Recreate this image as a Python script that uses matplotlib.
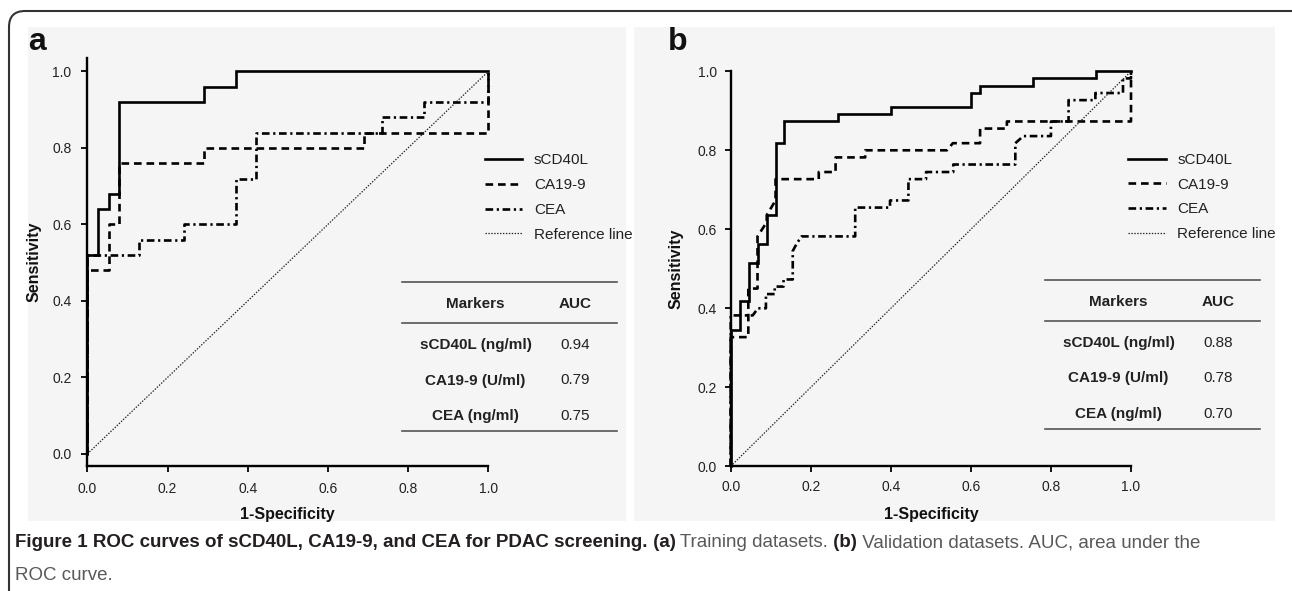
import matplotlib
matplotlib.use('Agg')
import matplotlib.pyplot as plt
from matplotlib.lines import Line2D
from matplotlib.patches import Rectangle, FancyBboxPatch
from matplotlib.transforms import IdentityTransform

W, H, DPI = 1292, 591, 100
plt.rcParams['font.family'] = ['Liberation Sans', 'DejaVu Sans']
plt.rcParams['lines.scale_dashes'] = False

# ---------------- data ----------------
series_names = ['sCD40L', 'CA19-9', 'CEA', 'Reference line']
tick_values = [0.0, 0.2, 0.4, 0.6, 0.8, 1.0]
tick_labels = ['0.0', '0.2', '0.4', '0.6', '0.8', '1.0']

# Panel a (training datasets): ROC vertices (1-specificity, sensitivity)
a_scd40l_x = [0, 0, 0.026, 0.026, 0.053, 0.053, 0.079, 0.079, 0.29, 0.29, 0.37, 0.37, 1.0]
a_scd40l_y = [0, 0.52, 0.52, 0.64, 0.64, 0.68, 0.68, 0.92, 0.92, 0.96, 0.96, 1.0, 1.0]
a_ca199_x = [0, 0, 0.053, 0.053, 0.079, 0.079, 0.29, 0.29, 0.69, 0.69, 1.0, 1.0]
a_ca199_y = [0, 0.48, 0.48, 0.60, 0.60, 0.76, 0.76, 0.80, 0.80, 0.84, 0.84, 1.0]
a_cea_x = [0, 0, 0.13, 0.13, 0.24, 0.24, 0.37, 0.37, 0.42, 0.42, 0.735, 0.735, 0.84, 0.84, 1.0, 1.0]
a_cea_y = [0, 0.52, 0.52, 0.56, 0.56, 0.60, 0.60, 0.72, 0.72, 0.84, 0.84, 0.88, 0.88, 0.92, 0.92, 1.0]

# Panel b (validation datasets)
b_scd40l_x = [0, 0, 0.023, 0.023, 0.046, 0.046, 0.067, 0.067, 0.09, 0.09, 0.1125, 0.1125,
              0.133, 0.133, 0.268, 0.268, 0.40, 0.40, 0.60, 0.60, 0.623, 0.623, 0.756, 0.756,
              0.912, 0.912, 1.0]
b_scd40l_y = [0, 0.345, 0.345, 0.418, 0.418, 0.515, 0.515, 0.564, 0.564, 0.636, 0.636, 0.818,
              0.818, 0.873, 0.873, 0.891, 0.891, 0.909, 0.909, 0.945, 0.945, 0.964, 0.964, 0.982,
              0.982, 1.0, 1.0]
b_ca199_x = [0, 0, 0.044, 0.044, 0.067, 0.067, 0.09, 0.09, 0.112, 0.112, 0.22, 0.22, 0.262,
             0.262, 0.336, 0.336, 0.54, 0.555, 0.623, 0.623, 0.69, 0.69, 1.0, 1.0]
b_ca199_y = [0, 0.327, 0.327, 0.45, 0.45, 0.582, 0.618, 0.636, 0.673, 0.727, 0.727, 0.745, 0.745,
             0.782, 0.782, 0.80, 0.80, 0.818, 0.818, 0.855, 0.855, 0.873, 0.873, 1.0]
b_cea_x = [0, 0, 0.055, 0.068, 0.088, 0.088, 0.11, 0.11, 0.132, 0.132, 0.155, 0.155, 0.165,
           0.177, 0.311, 0.311, 0.398, 0.398, 0.444, 0.444, 0.488, 0.488, 0.556, 0.556, 0.711,
           0.711, 0.731, 0.80, 0.80, 0.844, 0.844, 0.911, 0.911, 0.98, 0.98, 1.0, 1.0]
b_cea_y = [0, 0.382, 0.382, 0.40, 0.40, 0.436, 0.436, 0.455, 0.455, 0.473, 0.473, 0.545, 0.564,
           0.582, 0.582, 0.655, 0.655, 0.673, 0.673, 0.727, 0.727, 0.745, 0.745, 0.764, 0.764,
           0.818, 0.836, 0.836, 0.873, 0.873, 0.927, 0.927, 0.945, 0.945, 0.982, 0.982, 1.0]

ref_x = [0.0, 1.0]
ref_y = [0.0, 1.0]

table_header = ['Markers', 'AUC']
table_markers = ['sCD40L (ng/ml)', 'CA19-9 (U/ml)', 'CEA (ng/ml)']
a_auc = ['0.94', '0.79', '0.75']
b_auc = ['0.88', '0.78', '0.70']

x_label = '1-Specificity'
y_label = 'Sensitivity'

caption_pieces = [
    ('Figure 1 ROC curves of sCD40L, CA19-9, and CEA for PDAC screening.', 'bold'),
    (' (a)', 'bold'),
    (' Training datasets.', 'normal'),
    (' (b)', 'bold'),
    (' Validation datasets. AUC, area under the', 'normal'),
]
caption_line2 = 'ROC curve.'

# ---------------- layout helpers ----------------
def fx(px):
    return px / W

def fy(py):
    return 1 - py / H

fig = plt.figure(figsize=(W / DPI, H / DPI), dpi=DPI)
fig.patch.set_facecolor('white')

# outer rounded border
border = FancyBboxPatch((9, -30), 1400, (H - 11) + 30,
                        boxstyle='round,pad=0,rounding_size=16',
                        transform=IdentityTransform(), facecolor='none',
                        edgecolor='#333333', linewidth=1.5, zorder=-20)
fig.patches.append(border)

# panel gray backgrounds
for (x0, x1) in [(28, 626), (634, 1275)]:
    fig.patches.append(Rectangle((fx(x0), fy(521)), fx(x1) - fx(x0), fy(27) - fy(521),
                                 transform=fig.transFigure, facecolor='#f5f5f5',
                                 edgecolor='none', zorder=-10))

LW = 1.9
styles = {
    'sCD40L': dict(color='black', lw=LW, linestyle='-'),
    'CA19-9': dict(color='black', lw=LW, linestyle=(0, (5.5, 3.5))),
    'CEA': dict(color='black', lw=LW, linestyle=(0, (5.5, 2.6, 1.6, 2.6))),
    'Reference line': dict(color='#222222', lw=0.9, linestyle=(0, (1.0, 1.1))),
}

panels = [
    dict(letter='a', rect=(87.3, 466.0, 488.3, 58.0), ylim=(-0.0314, 1.035),
         data=[(a_scd40l_x, a_scd40l_y), (a_ca199_x, a_ca199_y), (a_cea_x, a_cea_y), (ref_x, ref_y)],
         auc=a_auc, letter_pos=(28, 50), legend_pos=(485, 153.5),
         table=dict(x0=401.7, x1=616.7, lines=(281.7, 322.7, 430.7), mcx=475.5, acx=575.0,
                    hy=303.5, rows=(345.0, 380.5, 416.0)),
         ylab_x=-0.113, xlab_y=-0.1, pad=7.0),
    dict(letter='b', rect=(730.7, 466.3, 1131.0, 71.3), ylim=(0.0, 1.0),
         data=[(b_scd40l_x, b_scd40l_y), (b_ca199_x, b_ca199_y), (b_cea_x, b_cea_y), (ref_x, ref_y)],
         auc=b_auc, letter_pos=(668, 50), legend_pos=(1128.3, 153.0),
         table=dict(x0=1045.0, x1=1260.0, lines=(280.0, 321.0, 429.0), mcx=1118.5, acx=1218.3,
                    hy=302.5, rows=(342.7, 378.0, 414.0)),
         ylab_x=-0.119, xlab_y=-0.103, pad=5.5),
]

for p in panels:
    l, b, r, t = p['rect']
    ax = fig.add_axes([fx(l), fy(b), fx(r) - fx(l), fy(t) - fy(b)])
    ax.set_facecolor('none')
    handles = []
    for name, (xs, ys) in zip(series_names, p['data']):
        ln, = ax.plot(xs, ys, label=name, clip_on=False, solid_joinstyle='miter',
                      dash_capstyle='butt', **styles[name])
        handles.append(ln)
    ax.set_xlim(0, 1.0)
    ax.set_ylim(*p['ylim'])
    ax.set_xticks(tick_values)
    ax.set_xticklabels(tick_labels)
    ax.set_yticks(tick_values)
    ax.set_yticklabels(tick_labels)
    for s in ['top', 'right']:
        ax.spines[s].set_visible(False)
    for s in ['left', 'bottom']:
        ax.spines[s].set_linewidth(1.7)
        ax.spines[s].set_color('black')
    ax.tick_params(direction='out', length=4.3, width=1.3, labelsize=10,
                   colors='black', labelcolor='#222222', pad=p['pad'])
    ax.set_xlabel(x_label, fontsize=11.5, fontweight='bold', color='#111111')
    ax.set_ylabel(y_label, fontsize=11.5, fontweight='bold', color='#111111')
    ax.xaxis.set_label_coords(0.5, p['xlab_y'])
    ax.yaxis.set_label_coords(p['ylab_x'], 0.5)

    leg = ax.legend(handles=handles, loc='upper left',
                    bbox_to_anchor=(fx(p['legend_pos'][0]), fy(p['legend_pos'][1])),
                    bbox_transform=fig.transFigure, frameon=False, fontsize=11,
                    handlelength=2.45, handletextpad=0.75, labelspacing=0.7,
                    borderpad=0, borderaxespad=0)
    for txt in leg.get_texts():
        txt.set_color('#222222')

    # panel letter
    fig.text(fx(p['letter_pos'][0]), fy(p['letter_pos'][1]), p['letter'], fontsize=23,
             fontweight='bold', ha='left', va='baseline', color='#111111')

    # AUC table
    tb = p['table']
    for yl in tb['lines']:
        fig.add_artist(Line2D([fx(tb['x0']), fx(tb['x1'])], [fy(yl), fy(yl)],
                              transform=fig.transFigure, color='#555555', lw=1.2))
    fig.text(fx(tb['mcx']), fy(tb['hy']), table_header[0], fontsize=11, fontweight='bold',
             ha='center', va='center', color='#222222')
    fig.text(fx(tb['acx']), fy(tb['hy']), table_header[1], fontsize=11, fontweight='bold',
             ha='center', va='center', color='#222222')
    for m, a, yr in zip(table_markers, p['auc'], tb['rows']):
        fig.text(fx(tb['mcx']), fy(yr), m, fontsize=11, fontweight='bold',
                 ha='center', va='center', color='#222222')
        fig.text(fx(tb['acx']), fy(yr), a, fontsize=11, fontweight='normal',
                 ha='center', va='center', color='#222222')

# caption
cap_font = ['Liberation Sans', 'DejaVu Sans']
cap_size = 13.5
renderer = fig.canvas.get_renderer()
x = fx(15)
for txt, wt in caption_pieces:
    t = fig.text(x, fy(547), txt, fontsize=cap_size, fontweight=wt, family=cap_font,
                 ha='left', va='baseline',
                 color='#231f20' if wt == 'bold' else '#58595b')
    bb = t.get_window_extent(renderer)
    x = bb.x1 / W
fig.text(fx(15), fy(580), caption_line2, fontsize=cap_size, family=cap_font,
         ha='left', va='baseline', color='#58595b')

fig.savefig('out.png', dpi=DPI, facecolor='white')
